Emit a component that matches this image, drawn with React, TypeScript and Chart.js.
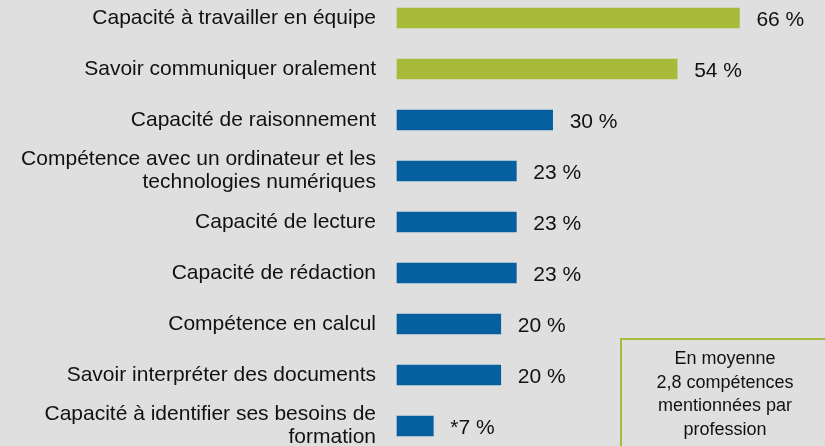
import React, { useEffect, useRef } from "react";
import { Chart, registerables } from "chart.js";

Chart.register(...registerables);

const categories: (string | string[])[] = [
  "Capacité à travailler en équipe",
  "Savoir communiquer oralement",
  "Capacité de raisonnement",
  ["Compétence avec un ordinateur et les", "technologies numériques"],
  "Capacité de lecture",
  "Capacité de rédaction",
  "Compétence en calcul",
  "Savoir interpréter des documents",
  ["Capacité à identifier ses besoins de", "formation"],
];
const values = [66, 54, 30, 23, 23, 23, 20, 20, 7];
const valueLabels = ["66 %", "54 %", "30 %", "23 %", "23 %", "23 %", "20 %", "20 %", "*7 %"];
const highlightCount = 2;
const noteLines = ["En moyenne", "2,8 compétences", "mentionnées par", "profession"];

const GREEN = "#a8bb38";
const BLUE = "#0660a0";
const BG = "#dfdfdf";
const TEXT = "#111111";
const FONT = "'Liberation Sans', Arial, sans-serif";

const valueLabelPlugin = {
  id: "valueLabels",
  afterDatasetsDraw(chart: any) {
    const ctx = chart.ctx;
    const meta = chart.getDatasetMeta(0);
    ctx.save();
    ctx.fillStyle = TEXT;
    ctx.font = `21px ${FONT}`;
    ctx.textAlign = "left";
    ctx.textBaseline = "middle";
    meta.data.forEach((el: any, i: number) => {
      ctx.fillText(valueLabels[i], el.x + 17, el.y + 2);
    });
    ctx.restore();
  },
};

export default function App() {
  const ref = useRef<HTMLCanvasElement | null>(null);
  useEffect(() => {
    if (!ref.current) return;
    const chart = new Chart(ref.current, {
      type: "bar",
      data: {
        labels: categories,
        datasets: [
          {
            data: values,
            backgroundColor: values.map((_, i) => (i < highlightCount ? GREEN : BLUE)),
            barThickness: 20,
            clip: false as any,
          },
        ],
      },
      options: {
        indexAxis: "y",
        animation: false,
        responsive: false,
        maintainAspectRatio: false,
        layout: { padding: { top: 18, bottom: 20, left: 0, right: 0 } },
        plugins: {
          legend: { display: false },
          tooltip: { enabled: false },
        },
        scales: {
          x: {
            display: false,
            min: 0,
            max: 82.5,
          },
          y: {
            offset: false,
            grid: { display: false, drawTicks: false },
            border: { display: false },
            ticks: {
              color: TEXT,
              padding: 21,
              font: { family: FONT, size: 21, lineHeight: 1.1 },
            },
            afterFit(scale: any) {
              scale.width = 397;
              scale.paddingTop = 0;
              scale.paddingBottom = 0;
            },
          },
        },
      },
      plugins: [valueLabelPlugin],
    });
    return () => chart.destroy();
  }, []);

  return (
    <div
      style={{
        position: "fixed",
        left: 0,
        top: 0,
        width: 825,
        height: 446,
        background: BG,
        overflow: "hidden",
      }}
    >
      <canvas ref={ref} width={825} height={446} style={{ display: "block" }} />
      <div
        style={{
          position: "absolute",
          left: 620,
          top: 338,
          width: 210,
          height: 120,
          border: `2px solid ${GREEN}`,
          boxSizing: "border-box",
          fontFamily: FONT,
          fontSize: 18,
          lineHeight: "23.5px",
          color: TEXT,
          textAlign: "center",
          paddingTop: 7,
        }}
      >
        {noteLines.map((l, i) => (
          <div key={i}>{l}</div>
        ))}
      </div>
    </div>
  );
}
